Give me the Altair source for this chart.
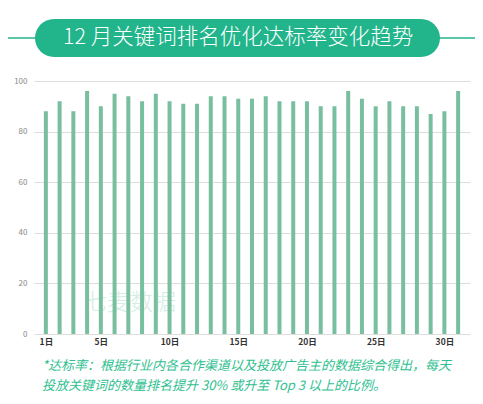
import altair as alt
import pandas as pd

days = list(range(1, 32))
rates = [88, 92, 88, 96, 90, 95, 94, 92, 95, 92, 91, 91, 94, 94, 93, 93,
         94, 92, 92, 92, 90, 90, 96, 93, 90, 92, 90, 90, 87, 88, 96]
tick_days = [1, 5, 10, 15, 20, 25, 30]
y_ticks = [0, 20, 40, 60, 80, 100]

title_text = "12 月关键词排名优化达标率变化趋势"
note_line1 = "*达标率：根据行业内各合作渠道以及投放广告主的数据综合得出，每天"
note_line2 = "投放关键词的数量排名提升 30% 或升至 Top 3 以上的比例。"
watermark = "七麦数据"

df = pd.DataFrame({"day": days, "rate": rates})
one = pd.DataFrame({"k": [0]})

FONT = "Noto Sans CJK SC"
GREEN = "#22b48b"

bars = alt.Chart(df).mark_bar(width=4, color="#78bf9f").encode(
    x=alt.X("day:Q",
            scale=alt.Scale(domain=[0.5, 31.5], nice=False, zero=False),
            axis=alt.Axis(values=tick_days, labelExpr="datum.value + '日'",
                          title=None, grid=False, domain=False, ticks=False,
                          labelFontWeight="bold", labelColor="#333333",
                          labelFontSize=8.5, labelPadding=3, labelFont=FONT)),
    y=alt.Y("rate:Q",
            scale=alt.Scale(domain=[0, 100], nice=False),
            axis=alt.Axis(values=y_ticks, title=None, grid=True,
                          gridColor="#dddddd", domain=False, ticks=False,
                          labelColor="#888888", labelFontSize=8,
                          labelPadding=7, labelFont=FONT)),
)

side_line = alt.Chart(one).mark_rule(color=GREEN, strokeWidth=1.5).encode(
    x=alt.value(-26), x2=alt.value(441), y=alt.value(-43)
)

pill = alt.Chart(one).mark_rect(color=GREEN, cornerRadius=19).encode(
    x=alt.value(1), x2=alt.value(406), y=alt.value(-62), y2=alt.value(-24)
)

title = alt.Chart(one).mark_text(
    text=title_text, color="white", fontSize=21.5, font=FONT,
    fontWeight=300, align="center", baseline="middle"
).encode(x=alt.value(204), y=alt.value(-43))

wm = alt.Chart(one).mark_text(
    text=watermark, color="#cbe9db", opacity=0.8, fontSize=23, font=FONT,
    fontWeight=300, align="center", baseline="middle"
).encode(x=alt.value(96), y=alt.value(222))

n1 = alt.Chart(one).mark_text(
    text=note_line1, color="#2fbf90", fontSize=13, font=FONT,
    fontStyle="italic", align="left", baseline="middle"
).encode(x=alt.value(8), y=alt.value(285))

n2 = alt.Chart(one).mark_text(
    text=note_line2, color="#2fbf90", fontSize=13, font=FONT,
    fontStyle="italic", align="left", baseline="middle"
).encode(x=alt.value(8), y=alt.value(305))

chart = alt.layer(wm, bars, side_line, pill, title, n1, n2).properties(
    width=436, height=253,
    padding={"left": 26, "top": 73, "right": 5, "bottom": 62},
    autosize=alt.AutoSizeParams(type="none"),
    background="white",
).configure_view(stroke=None)

chart.save("out.html", embed_options={"renderer": "svg", "actions": False})
